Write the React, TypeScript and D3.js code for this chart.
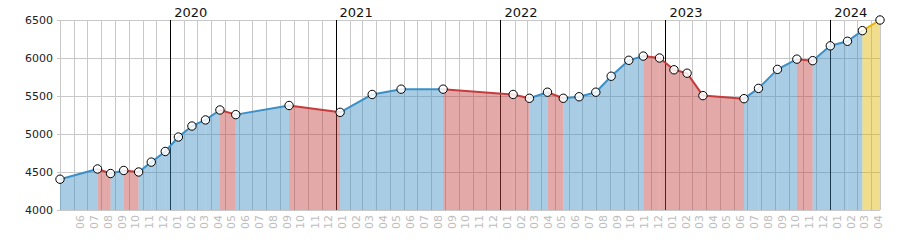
import React from "react";
import * as d3 from "d3";

const dates = [
  "2019-05-02", "2019-07-24", "2019-08-22", "2019-09-20", "2019-10-23", "2019-11-20",
  "2019-12-21", "2020-01-19", "2020-02-18", "2020-03-19", "2020-04-20", "2020-05-25",
  "2020-09-20", "2021-01-11", "2021-03-23", "2021-05-26", "2021-08-27", "2022-01-29",
  "2022-03-06", "2022-04-15", "2022-05-20", "2022-06-24", "2022-07-31", "2022-09-03",
  "2022-10-12", "2022-11-13", "2022-12-19", "2023-01-20", "2023-02-18", "2023-03-25",
  "2023-06-24", "2023-07-26", "2023-09-06", "2023-10-19", "2023-11-23", "2024-01-01",
  "2024-02-08", "2024-03-12", "2024-04-20",
];
const values = [
  4405, 4540, 4480, 4520, 4500, 4630,
  4770, 4960, 5105, 5185, 5316, 5255,
  5375, 5285, 5520, 5590, 5590, 5520,
  5470, 5550, 5470, 5490, 5550, 5760,
  5970, 6025, 6000, 5845, 5800, 5505,
  5465, 5600, 5850, 5985, 5965, 6160,
  6220, 6360, 6500,
];
const yTicks = [4000, 4500, 5000, 5500, 6000, 6500];

const W = 900;
const H = 250;
const M = { left: 60, right: 20, top: 20, bottom: 40 };

const COLORS = {
  up: { line: "#3a8fc6", fill: "rgb(62,142,195)" },
  down: { line: "#c43c3c", fill: "rgb(193,62,62)" },
  last: { line: "#e6b400", fill: "rgb(222,182,0)" },
};

export default function App() {
  const parse = d3.utcParse("%Y-%m-%d");
  const pts = dates.map((d, i) => ({ date: parse(d) as Date, value: values[i] }));
  const x = d3
    .scaleUtc()
    .domain(d3.extent(pts, (p) => p.date) as [Date, Date])
    .range([M.left, W - M.right]);
  const y = d3.scaleLinear().domain([4000, 6500]).range([H - M.bottom, M.top]);
  const [d0, d1] = x.domain();
  const months = d3.utcMonth.range(d3.utcMonth.ceil(d0), d1);
  const years = d3.utcYear.range(d3.utcYear.ceil(d0), d1);
  const fmtM = d3.utcFormat("%m");
  const fmtY = d3.utcFormat("%Y");
  const line = d3
    .line<{ date: Date; value: number }>()
    .x((p) => x(p.date))
    .y((p) => y(p.value));
  const area = d3
    .area<{ date: Date; value: number }>()
    .x((p) => x(p.date))
    .y0(y(4000))
    .y1((p) => y(p.value));

  const segs = pts.slice(0, -1).map((p, i) => {
    const q = pts[i + 1];
    const kind = i === pts.length - 2 ? "last" : q.value < p.value ? "down" : "up";
    return { a: p, b: q, kind: kind as keyof typeof COLORS };
  });

  const x0 = M.left;
  const x1 = W - M.right;
  const yb = y(4000);
  const yt = y(6500);

  return (
    <svg
      width={W}
      height={H}
      style={{ position: "absolute", left: 0, top: 0, display: "block", background: "#fff" }}
      fontFamily="DejaVu Sans, sans-serif"
    >
      {/* horizontal grid */}
      {yTicks.map((t) => (
        <line key={"h" + t} x1={x0 - 3} x2={x1} y1={y(t)} y2={y(t)} stroke="#c8c8c8" strokeWidth={1} shapeRendering="crispEdges" />
      ))}
      {/* vertical month grid */}
      {months.map((m) => (
        <line key={"m" + m.toISOString()} x1={Math.round(x(m)) + 0.5} x2={Math.round(x(m)) + 0.5} y1={yt} y2={yb} stroke="#c8c8c8" strokeWidth={1} />
      ))}
      <line x1={x0 + 0.5} x2={x0 + 0.5} y1={yt} y2={yb} stroke="#c8c8c8" />
      <line x1={x1 + 0.5} x2={x1 + 0.5} y1={yt} y2={yb} stroke="#c8c8c8" />
      {/* year lines */}
      {years.map((yr) => (
        <line key={"y" + yr.toISOString()} x1={Math.round(x(yr)) + 0.5} x2={Math.round(x(yr)) + 0.5} y1={yt} y2={yb} stroke="#000" strokeWidth={1} />
      ))}
      {/* fills */}
      {segs.map((s, i) => (
        <path key={"a" + i} d={area([s.a, s.b]) as string} fill={COLORS[s.kind].fill} fillOpacity={0.45} />
      ))}
      {/* lines */}
      {segs.map((s, i) => (
        <path key={"l" + i} d={line([s.a, s.b]) as string} fill="none" stroke={COLORS[s.kind].line} strokeWidth={2} />
      ))}
      {/* markers */}
      {pts.map((p, i) => (
        <circle key={"c" + i} cx={x(p.date)} cy={y(p.value)} r={4.2} fill="#fff" fillOpacity={0.85} stroke="#000" strokeWidth={1} />
      ))}
      {/* y labels */}
      {yTicks.map((t) => (
        <text key={"yt" + t} x={53} y={y(t)} dy="0.36em" textAnchor="end" fontSize={11} fill="#222">
          {t}
        </text>
      ))}
      {/* year labels */}
      {years.map((yr) => (
        <text key={"yl" + yr.toISOString()} x={x(yr) + 4} y={17} fontSize={13} fill="#111">
          {fmtY(yr)}
        </text>
      ))}
      {/* month labels */}
      {months.map((m) => (
        <text
          key={"ml" + m.toISOString()}
          transform={`translate(${x(m) + 6.5},${yb + 5}) rotate(-90)`}
          textAnchor="end"
          dy="0.36em"
          fontSize={11}
          fill="#bdbdbd"
        >
          {fmtM(m)}
        </text>
      ))}
    </svg>
  );
}
